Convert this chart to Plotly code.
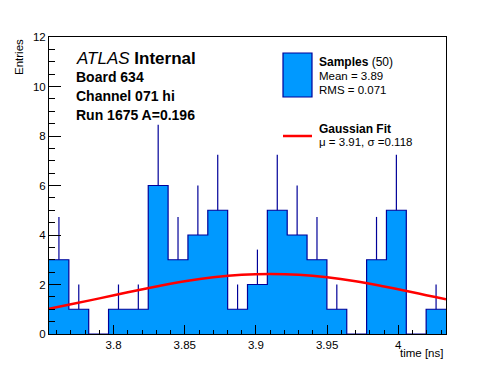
import plotly.graph_objects as go

# ---- data ----
bin_low = 3.7546          # lower edge of first bin (ns)
bin_width = 0.013945      # bin width (ns)
counts = [3, 1, 0, 1, 1, 6, 3, 4, 5, 1, 2, 5, 4, 3, 1, 0, 3, 5, 0, 1]
errors = [1.73, 1, 0, 1, 1, 2.45, 1.73, 2, 2.24, 1, 1.41, 2.24, 2, 1.73, 1, 0, 1.73, 2.24, 0, 1]

fit_x = [3.7546, 3.77, 3.79, 3.81, 3.83, 3.85, 3.87, 3.89, 3.91, 3.93, 3.95, 3.97, 3.99, 4.01, 4.0335]
fit_y = [1.02, 1.20, 1.44, 1.69, 1.92, 2.13, 2.29, 2.39, 2.42, 2.39, 2.29, 2.13, 1.92, 1.69, 1.40]

x_tickvals = [3.8, 3.85, 3.9, 3.95, 4.0]
x_ticktext = ["3.8", "3.85", "3.9", "3.95", "4"]
y_tickvals = [0, 2, 4, 6, 8, 10, 12]

x_range = [3.7546, 4.0335]
y_range = [0, 12]

FILL = "#0099ff"
NAVY = "#000099"
FONT = "Liberation Sans, Arial, Helvetica, sans-serif"

n = len(counts)
edges = [bin_low + i * bin_width for i in range(n + 1)]
centers = [bin_low + (i + 0.5) * bin_width for i in range(n)]

fig = go.Figure()

# histogram as filled step
fig.add_trace(go.Scatter(
    x=edges, y=counts + [counts[-1]],
    mode="lines", line=dict(shape="hv", color=NAVY, width=1.2),
    fill="tozeroy", fillcolor=FILL, hoverinfo="skip", showlegend=False,
))

# error bars (upper part only visible)
fig.add_trace(go.Scatter(
    x=centers, y=counts, mode="markers",
    marker=dict(size=1, color="rgba(0,0,0,0)"),
    error_y=dict(type="data", array=errors, arrayminus=[0] * n, symmetric=False,
                 color=NAVY, thickness=1.2, width=0),
    hoverinfo="skip", showlegend=False,
))

# gaussian fit curve
fig.add_trace(go.Scatter(
    x=fit_x, y=fit_y, mode="lines", line=dict(color="#ff0000", width=2.5, shape="spline"),
    hoverinfo="skip", showlegend=False,
))

# page geometry (the page body has an 8px margin)
OFF = 8
PL, PT, PRR, PB = 49, 37, 446, 334   # plot area in window pixels
W, H = 496 - OFF, 372 - OFF
L, T = PL - OFF, PT - OFF
PW, PH = PRR - PL, PB - PT
R = W - L - PW
B = H - T - PH


def px(x):
    return (x - PL) / PW


def py(y):
    return (PB - y) / PH


annotations = []


def txt(text, x, y, size, xanchor="left", yanchor="middle", angle=0):
    annotations.append(dict(text=text, x=px(x), y=py(y), xref="paper", yref="paper",
                            xanchor=xanchor, yanchor=yanchor, showarrow=False,
                            textangle=angle, font=dict(size=size, color="black", family=FONT)))


txt("<i>ATLAS</i> <b>Internal</b>", 74, 58, 17)
txt("<b>Board 634</b>", 74, 77, 14)
txt("<b>Channel 071 hi</b>", 74, 96, 14)
txt("<b>Run 1675 A=0.196</b>", 74, 115, 14)

txt("<b>Samples</b> (50)", 317, 62, 12)
txt("Mean = 3.89", 317, 76, 11.5)
txt("RMS = 0.071", 317, 90, 11.5)
txt("<b>Gaussian Fit</b>", 317, 129, 12)
txt("\u03bc = 3.91, \u03c3 =0.118", 317, 142, 11.5)

txt("time [ns]", 445, 353, 11.5, xanchor="right")
txt("Entries", 19, 37, 11.5, xanchor="center", yanchor="top", angle=-90)

shapes = [
    dict(type="rect", xref="paper", yref="paper", x0=px(283), x1=px(312), y0=py(53), y1=py(97),
         fillcolor=FILL, line=dict(color=NAVY, width=1.2)),
    dict(type="line", xref="paper", yref="paper", x0=px(283), x1=px(312), y0=py(136), y1=py(136),
         line=dict(color="#ff0000", width=2.5)),
]

fig.update_layout(
    width=W, height=H,
    margin=dict(l=L, r=R, t=T, b=B, pad=0),
    paper_bgcolor="white", plot_bgcolor="white",
    font=dict(family=FONT, size=11.5, color="black"),
    annotations=annotations, shapes=shapes,
    xaxis=dict(range=x_range, tickvals=x_tickvals, ticktext=x_ticktext,
               ticks="inside", ticklen=9, tickwidth=1, tickcolor="black",
               minor=dict(dtick=0.01, tick0=3.8, ticks="inside", ticklen=4.5, tickcolor="black", showgrid=False),
               showline=True, linecolor="black", linewidth=1, mirror=True,
               showgrid=False, zeroline=False, tickfont=dict(size=11.5)),
    yaxis=dict(range=y_range, tickvals=y_tickvals,
               ticks="inside", ticklen=12, tickwidth=1, tickcolor="black",
               minor=dict(dtick=0.5, tick0=0, ticks="inside", ticklen=6, tickcolor="black", showgrid=False),
               showline=True, linecolor="black", linewidth=1, mirror=True,
               showgrid=False, zeroline=False, tickfont=dict(size=11.5)),
)

fig.write_html("out.html")
